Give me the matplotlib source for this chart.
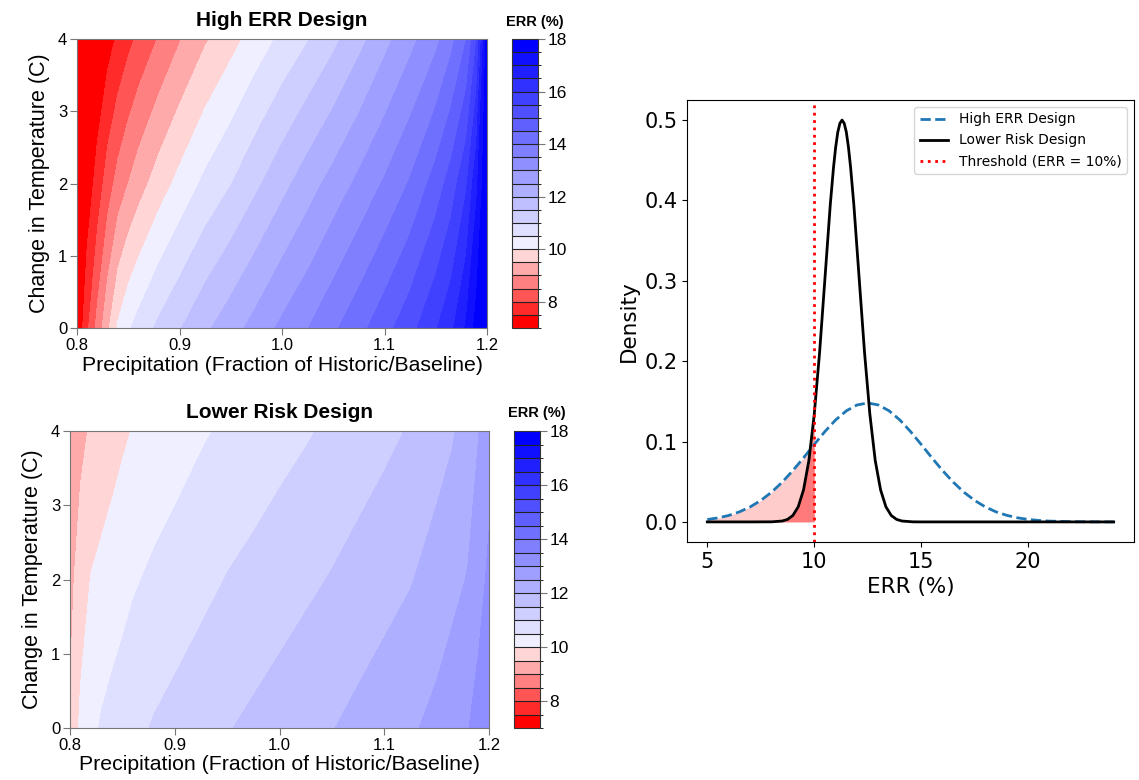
import numpy as np
import matplotlib
matplotlib.use("Agg")
import matplotlib.pyplot as plt
import matplotlib.cm as cm
from matplotlib.colors import ListedColormap, BoundaryNorm

# ---- contour data (ERR % read from the two response surfaces) ----
precip = [0.80, 0.81, 0.82, 0.83, 0.84, 0.85, 0.86, 0.88, 0.90, 0.925, 0.95, 0.975,
          1.00, 1.025, 1.05, 1.075, 1.10, 1.125, 1.15, 1.165, 1.18, 1.19, 1.20]
temp_change = [0, 2, 4]

err_high = [
    [7.0, 7.9, 8.67, 9.4, 10.07, 10.43, 10.68, 11.11, 11.46, 11.9, 12.29, 12.69,
     13.11, 13.48, 13.91, 14.34, 14.81, 15.33, 15.95, 16.38, 17.08, 17.7, 18.3],
    [6.7, 7.2, 7.7, 8.25, 8.69, 9.0, 9.28, 9.75, 10.15, 10.61, 10.98, 11.41,
     11.84, 12.27, 12.69, 13.12, 13.56, 14.05, 14.72, 15.23, 15.94, 16.9, 18.0],
    [6.5, 6.75, 7.03, 7.3, 7.58, 7.86, 8.11, 8.54, 8.96, 9.44, 9.83, 10.23,
     10.61, 10.97, 11.37, 11.84, 12.35, 12.85, 13.37, 13.85, 14.5, 15.5, 17.8],
]
err_low = [
    [9.55, 10.11, 10.37, 10.55, 10.66, 10.76, 10.86, 11.04, 11.16, 11.32, 11.47, 11.6,
     11.73, 11.86, 11.98, 12.13, 12.28, 12.43, 12.64, 12.81, 12.98, 13.2, 13.4],
    [9.35, 9.73, 10.02, 10.13, 10.23, 10.33, 10.44, 10.59, 10.71, 10.86, 11.02, 11.14,
     11.27, 11.4, 11.53, 11.68, 11.82, 11.97, 12.2, 12.36, 12.53, 12.8, 13.1],
    [9.1, 9.37, 9.56, 9.68, 9.8, 9.92, 10.02, 10.15, 10.28, 10.44, 10.58, 10.7,
     10.83, 10.95, 11.09, 11.23, 11.38, 11.54, 11.8, 11.95, 12.24, 12.48, 12.8],
]
err_levels = np.arange(7.0, 18.01, 0.5)
cbar_ticks = [8, 10, 12, 14, 16, 18]

# ---- density data (ERR % vs density) ----
err_x_high = [5, 5.5, 6, 6.5, 7, 7.5, 8, 8.5, 9, 9.5, 10, 10.5, 11, 11.5, 12, 12.5,
              13, 13.5, 14, 14.5, 15, 15.5, 16, 16.5, 17, 17.5, 18, 18.5, 19, 19.5,
              20, 20.5, 21, 22, 23, 24]
dens_high = [0.003, 0.005, 0.008, 0.0125, 0.0186, 0.0267, 0.0369, 0.0494, 0.0639, 0.0798,
             0.0964, 0.1125, 0.1269, 0.1382, 0.1455, 0.148, 0.1455, 0.1382, 0.1269, 0.1125,
             0.0964, 0.0798, 0.0639, 0.0494, 0.0369, 0.0267, 0.0186, 0.0125, 0.0082, 0.0051,
             0.0031, 0.0018, 0.001, 0.0003, 0.0001, 0.0]
err_x_low = [5, 6, 7, 8, 8.5, 8.75, 9, 9.25, 9.5, 9.75, 10, 10.25, 10.5, 10.75, 10.9,
             11.0, 11.1, 11.2, 11.3, 11.4, 11.5, 11.6, 11.7, 11.85, 12.1, 12.35, 12.6,
             12.85, 13.1, 13.35, 13.6, 13.85, 14.1, 14.6, 15, 16, 24]
dens_low = [0, 0, 0, 0.0001, 0.0011, 0.0031, 0.008, 0.0188, 0.040, 0.0765, 0.134, 0.211,
            0.303, 0.395, 0.441, 0.466, 0.485, 0.496, 0.5, 0.496, 0.485, 0.466, 0.441,
            0.395, 0.303, 0.211, 0.134, 0.0765, 0.040, 0.0188, 0.008, 0.0031, 0.0011,
            0.0001, 0, 0, 0]
threshold = 10

# colour scale: 6 reds below 10 %, 16 blues above
reds = [(1.0, k / 6, k / 6) for k in range(6)]
blues = [((15 - k) / 16, (15 - k) / 16, 1.0) for k in range(16)]
err_cmap = ListedColormap(reds + blues)
err_cmap.set_under(reds[0])
err_cmap.set_over(blues[-1])
err_norm = BoundaryNorm(err_levels, err_cmap.N)

W, H = 1139, 780
fig = plt.figure(figsize=(W / 100, H / 100), dpi=100)


def box(x0, y0, x1, y1):
    # pixel box -> figure fraction rect
    return [x0 / W, 1 - y1 / H, (x1 - x0) / W, (y1 - y0) / H]


def draw_surface(ax_rect, cax_rect, err, title, title_y):
    ax = fig.add_axes(box(*ax_rect))
    ax.contourf(precip, temp_change, err, levels=err_levels, cmap=err_cmap,
                norm=err_norm, extend='both')
    ax.set_xlim(0.8, 1.2)
    ax.set_ylim(0, 4)
    ax.set_xticks([0.8, 0.9, 1.0, 1.1, 1.2])
    ax.set_xticklabels(['0.8', '0.9', '1.0', '1.1', '1.2'])
    ax.set_yticks([0, 1, 2, 3, 4])
    for s in ax.spines.values():
        s.set_color('#777777')
    ax.tick_params(length=5, color='#777777', labelsize=12, pad=2)
    for lab in ax.get_xticklabels() + ax.get_yticklabels():
        lab.set_family('Liberation Sans')
    ax.set_xlabel('Precipitation (Fraction of Historic/Baseline)', fontsize=15.3,
                  family='Liberation Sans', labelpad=2)
    ax.set_ylabel('Change in Temperature (C)', fontsize=15.5,
                  family='Liberation Sans', labelpad=6)
    fig.text((ax_rect[0] + ax_rect[2]) / 2 / W, 1 - title_y / H, title,
             ha='center', va='center', fontsize=15, fontweight='bold',
             family='Liberation Sans')

    cax = fig.add_axes(box(*cax_rect))
    cb = fig.colorbar(cm.ScalarMappable(norm=err_norm, cmap=err_cmap), cax=cax,
                      ticks=cbar_ticks, drawedges=True)
    cb.dividers.set_color('#222222')
    cb.dividers.set_linewidth(0.8)
    cb.outline.set_edgecolor('#333333')
    cax.tick_params(length=5, color='#777777', labelsize=12.5, pad=2)
    for lab in cax.get_yticklabels():
        lab.set_family('Liberation Sans')
    fig.text((cax_rect[0] + cax_rect[2]) / 2 / W + 0.009, 1 - (title_y + 1) / H, 'ERR (%)',
             ha='center', va='center', fontsize=10.5, fontweight='bold',
             family='Liberation Sans')
    return ax


draw_surface((77, 39, 487, 328), (512, 39, 538, 328), err_high, 'High ERR Design', 21)
draw_surface((70, 431, 489, 728), (514, 431, 540, 728), err_low, 'Lower Risk Design', 412)

# ---- density plot ----
ax3 = fig.add_axes(box(687, 100, 1134, 542))
n_hi = err_x_high.index(threshold) + 1
n_lo = err_x_low.index(threshold) + 1
ax3.fill_between(err_x_high[:n_hi], dens_high[:n_hi], color='red', alpha=0.2, lw=0)
ax3.fill_between(err_x_low[:n_lo], dens_low[:n_lo], color='red', alpha=0.4, lw=0)
ax3.plot(err_x_high, dens_high, ls='--', color='#1f77b4', lw=2, label='High ERR Design')
ax3.plot(err_x_low, dens_low, ls='-', color='black', lw=2, label='Lower Risk Design')
ax3.axvline(threshold, color='red', ls=':', lw=2, label='Threshold (ERR = 10%)')
ax3.set_xticks([5, 10, 15, 20])
ax3.set_yticks([0.0, 0.1, 0.2, 0.3, 0.4, 0.5])
ax3.tick_params(labelsize=15)
ax3.set_xlabel('ERR (%)', fontsize=15.5)
ax3.set_ylabel('Density', fontsize=15.5)
ax3.legend(loc='upper right', fontsize=10)

fig.savefig('out.png', dpi=100)
